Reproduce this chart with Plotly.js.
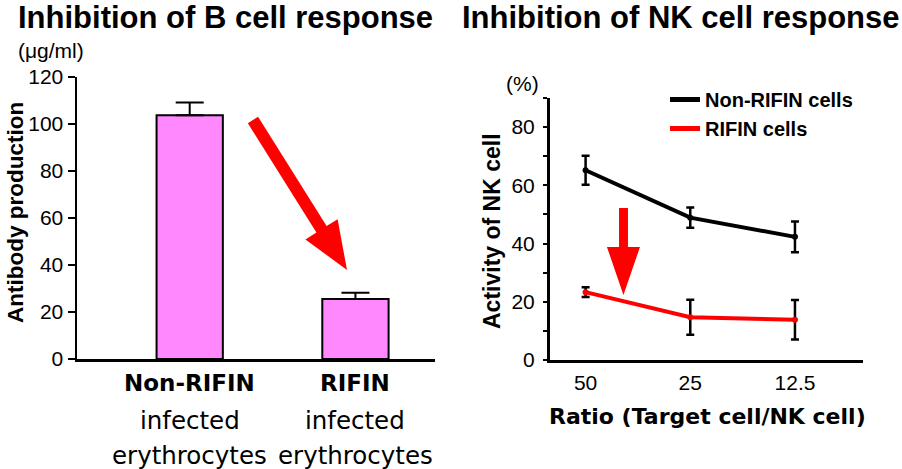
<!DOCTYPE html>
<html>
<head>
<meta charset="utf-8">
<script src="https://cdn.plot.ly/plotly-3.0.1.min.js"></script>
<style>html,body{margin:0;padding:0;background:#fff;}#chart{width:902px;height:469px;}</style>
</head>
<body>
<div id="chart"></div>
<script>
// ---- Data ----
const bCategoryLines = [["Non-RIFIN", "infected", "erythrocytes"], ["RIFIN", "infected", "erythrocytes"]];
const bCategories = bCategoryLines.map(l => l.join(" "));
const bValues = [103.7, 25.5];
const bErrors = [5.4, 2.7];
const bYTicks = [0, 20, 40, 60, 80, 100, 120];

const nkRatios = ["50", "25", "12.5"];
const seriesNames = ["Non-RIFIN cells", "RIFIN cells"];
const nonRifinValues = [65.2, 48.9, 42.3];
const nonRifinErrors = [5.0, 3.5, 5.3];
const rifinValues = [23.3, 14.7, 13.8];
const rifinErrors = [1.7, 6.0, 6.8];
const nkYTicks = [0, 20, 40, 60, 80];

// ---- Layout helpers ----
const W = 902, H = 469;
const px = x => x / W;
const py = y => 1 - y / H;
function path(pts) {
  return 'M' + pts.map(p => px(p[0]).toFixed(4) + ',' + py(p[1]).toFixed(4)).join('L') + 'Z';
}
const ARIAL = 'Liberation Sans, Arial, sans-serif';
const VERD = 'DejaVu Sans, Verdana, sans-serif';
const lineColors = ['#000000', '#ff0000'];

const traces = [
  {
    type: 'bar', x: bCategories, y: bValues, xaxis: 'x', yaxis: 'y',
    marker: {color: '#ff88ff', line: {color: '#000', width: 2}},
    error_y: {type: 'data', symmetric: false, array: bErrors, arrayminus: bValues.map(() => 0),
              color: '#000', thickness: 2, width: 14},
    showlegend: false, hoverinfo: 'skip'
  },
  {
    type: 'scatter', mode: 'lines+markers', name: seriesNames[0], legendgroup: 'a', showlegend: false,
    x: nkRatios, y: nonRifinValues, xaxis: 'x2', yaxis: 'y2',
    line: {color: lineColors[0], width: 4}, marker: {color: lineColors[0], size: 6},
    error_y: {type: 'data', array: nonRifinErrors, color: '#000', thickness: 2.5, width: 4}
  },
  {
    type: 'scatter', mode: 'lines+markers', name: seriesNames[1], legendgroup: 'b', showlegend: false,
    x: nkRatios, y: rifinValues, xaxis: 'x2', yaxis: 'y2',
    line: {color: lineColors[1], width: 4}, marker: {color: lineColors[1], size: 6},
    error_y: {type: 'data', array: rifinErrors, color: '#000', thickness: 2.5, width: 4}
  },
  // legend entries (line only)
  {type: 'scatter', mode: 'lines', name: seriesNames[0], legendgroup: 'a', x: [null], y: [null],
   xaxis: 'x2', yaxis: 'y2', line: {color: lineColors[0], width: 5}},
  {type: 'scatter', mode: 'lines', name: seriesNames[1], legendgroup: 'b', x: [null], y: [null],
   xaxis: 'x2', yaxis: 'y2', line: {color: lineColors[1], width: 5}}
];

const annotations = [
  {text: '<b>Inhibition of B cell response</b>', x: px(225), y: py(17), xref: 'paper', yref: 'paper',
   showarrow: false, xanchor: 'center', yanchor: 'middle', font: {family: ARIAL, size: 31, color: '#000'}},
  {text: '<b>Inhibition of NK cell response</b>', x: px(680), y: py(17), xref: 'paper', yref: 'paper',
   showarrow: false, xanchor: 'center', yanchor: 'middle', font: {family: ARIAL, size: 31, color: '#000'}},
  {text: '(μg/ml)', x: px(51), y: py(50), xref: 'paper', yref: 'paper', showarrow: false,
   xanchor: 'center', yanchor: 'middle', font: {family: ARIAL, size: 21, color: '#000'}},
  {text: '(%)', x: px(522), y: py(83), xref: 'paper', yref: 'paper', showarrow: false,
   xanchor: 'center', yanchor: 'middle', font: {family: ARIAL, size: 21, color: '#000'}},
  {text: '<b>Antibody production</b>', x: px(15), y: py(213), xref: 'paper', yref: 'paper', showarrow: false,
   textangle: -90, xanchor: 'center', yanchor: 'middle', font: {family: ARIAL, size: 22.5, color: '#000'}},
  {text: '<b>Activity of NK cell</b>', x: px(492), y: py(231), xref: 'paper', yref: 'paper', showarrow: false,
   textangle: -90, xanchor: 'center', yanchor: 'middle', font: {family: ARIAL, size: 23, color: '#000'}},
  {text: '<b>Ratio (Target cell/NK cell)</b>', x: px(707), y: py(416), xref: 'paper', yref: 'paper', showarrow: false,
   xanchor: 'center', yanchor: 'middle', font: {family: VERD, size: 22, color: '#000'}}
];
const lineYs = [383, 420, 455];
bCategoryLines.forEach((lines, i) => {
  lines.forEach((t, j) => {
    annotations.push({
      text: j === 0 ? '<b>' + t + '</b>' : t, x: bCategories[i], xref: 'x', y: py(lineYs[j]), yref: 'paper',
      showarrow: false, xanchor: 'center', yanchor: 'middle',
      font: {family: VERD, size: j === 0 ? 23 : 24.5, color: '#000'}
    });
  });
});

// decorative arrows (paper coordinates)
const shapes = [
  {type: 'path', xref: 'paper', yref: 'paper', layer: 'above', fillcolor: '#ff0000', line: {width: 0},
   path: path([[247.9,123.2],[316.4,232.5],[305.4,239.4],[347,270],[337.6,219.2],[326.6,226.1],[258.1,116.8]])},
  {type: 'path', xref: 'paper', yref: 'paper', layer: 'above', fillcolor: '#ff0000', line: {width: 0},
   path: path([[619,208],[628,208],[628,247],[640,247],[623.5,295],[607,247],[619,247]])}
];

const layout = {
  width: W, height: H, margin: {l: 0, r: 0, t: 0, b: 0},
  paper_bgcolor: '#fff', plot_bgcolor: 'rgba(0,0,0,0)',
  bargap: 0.6,
  xaxis: {domain: [px(77), px(435)], type: 'category', range: [-0.68, 1.48], showline: true, linewidth: 2.5,
          linecolor: '#000', ticks: '', showticklabels: false, showgrid: false, zeroline: false, fixedrange: true},
  yaxis: {domain: [py(359), py(77)], range: [0, 120], tickvals: bYTicks, ticks: 'outside', ticklen: 7, tickwidth: 2,
          tickcolor: '#000', showline: true, linewidth: 2.5, linecolor: '#000', showgrid: false, zeroline: false,
          tickfont: {family: ARIAL, size: 21, color: '#000'}, fixedrange: true},
  xaxis2: {domain: [px(550), px(863)], anchor: 'y2', type: 'category', range: [-0.34, 2.65], showline: true,
           linewidth: 3, linecolor: '#000', ticks: '', showgrid: false, zeroline: false, ticklabelstandoff: 2,
           tickfont: {family: ARIAL, size: 21, color: '#000'}, fixedrange: true},
  yaxis2: {domain: [py(360), py(98)], anchor: 'x2', range: [0, 90], tickvals: nkYTicks, ticks: 'outside',
           ticklen: 4, tickwidth: 2, tickcolor: '#000', showline: true, linewidth: 3, linecolor: '#000',
           minor: {ticks: 'outside', dtick: 10, tick0: 0, ticklen: 4, tickwidth: 2, tickcolor: '#000'},
           showgrid: false, zeroline: false, ticklabelstandoff: 4,
           tickfont: {family: ARIAL, size: 21, color: '#000'}, fixedrange: true},
  legend: {x: px(665), y: py(80), xanchor: 'left', yanchor: 'top', bgcolor: 'rgba(0,0,0,0)',
           font: {family: ARIAL, size: 20, color: '#000', weight: 'bold'}, tracegroupgap: 0, itemwidth: 30},
  showlegend: true,
  annotations: annotations,
  shapes: shapes
};

Plotly.newPlot('chart', traces, layout, {displayModeBar: false, staticPlot: true});
</script>
</body>
</html>
